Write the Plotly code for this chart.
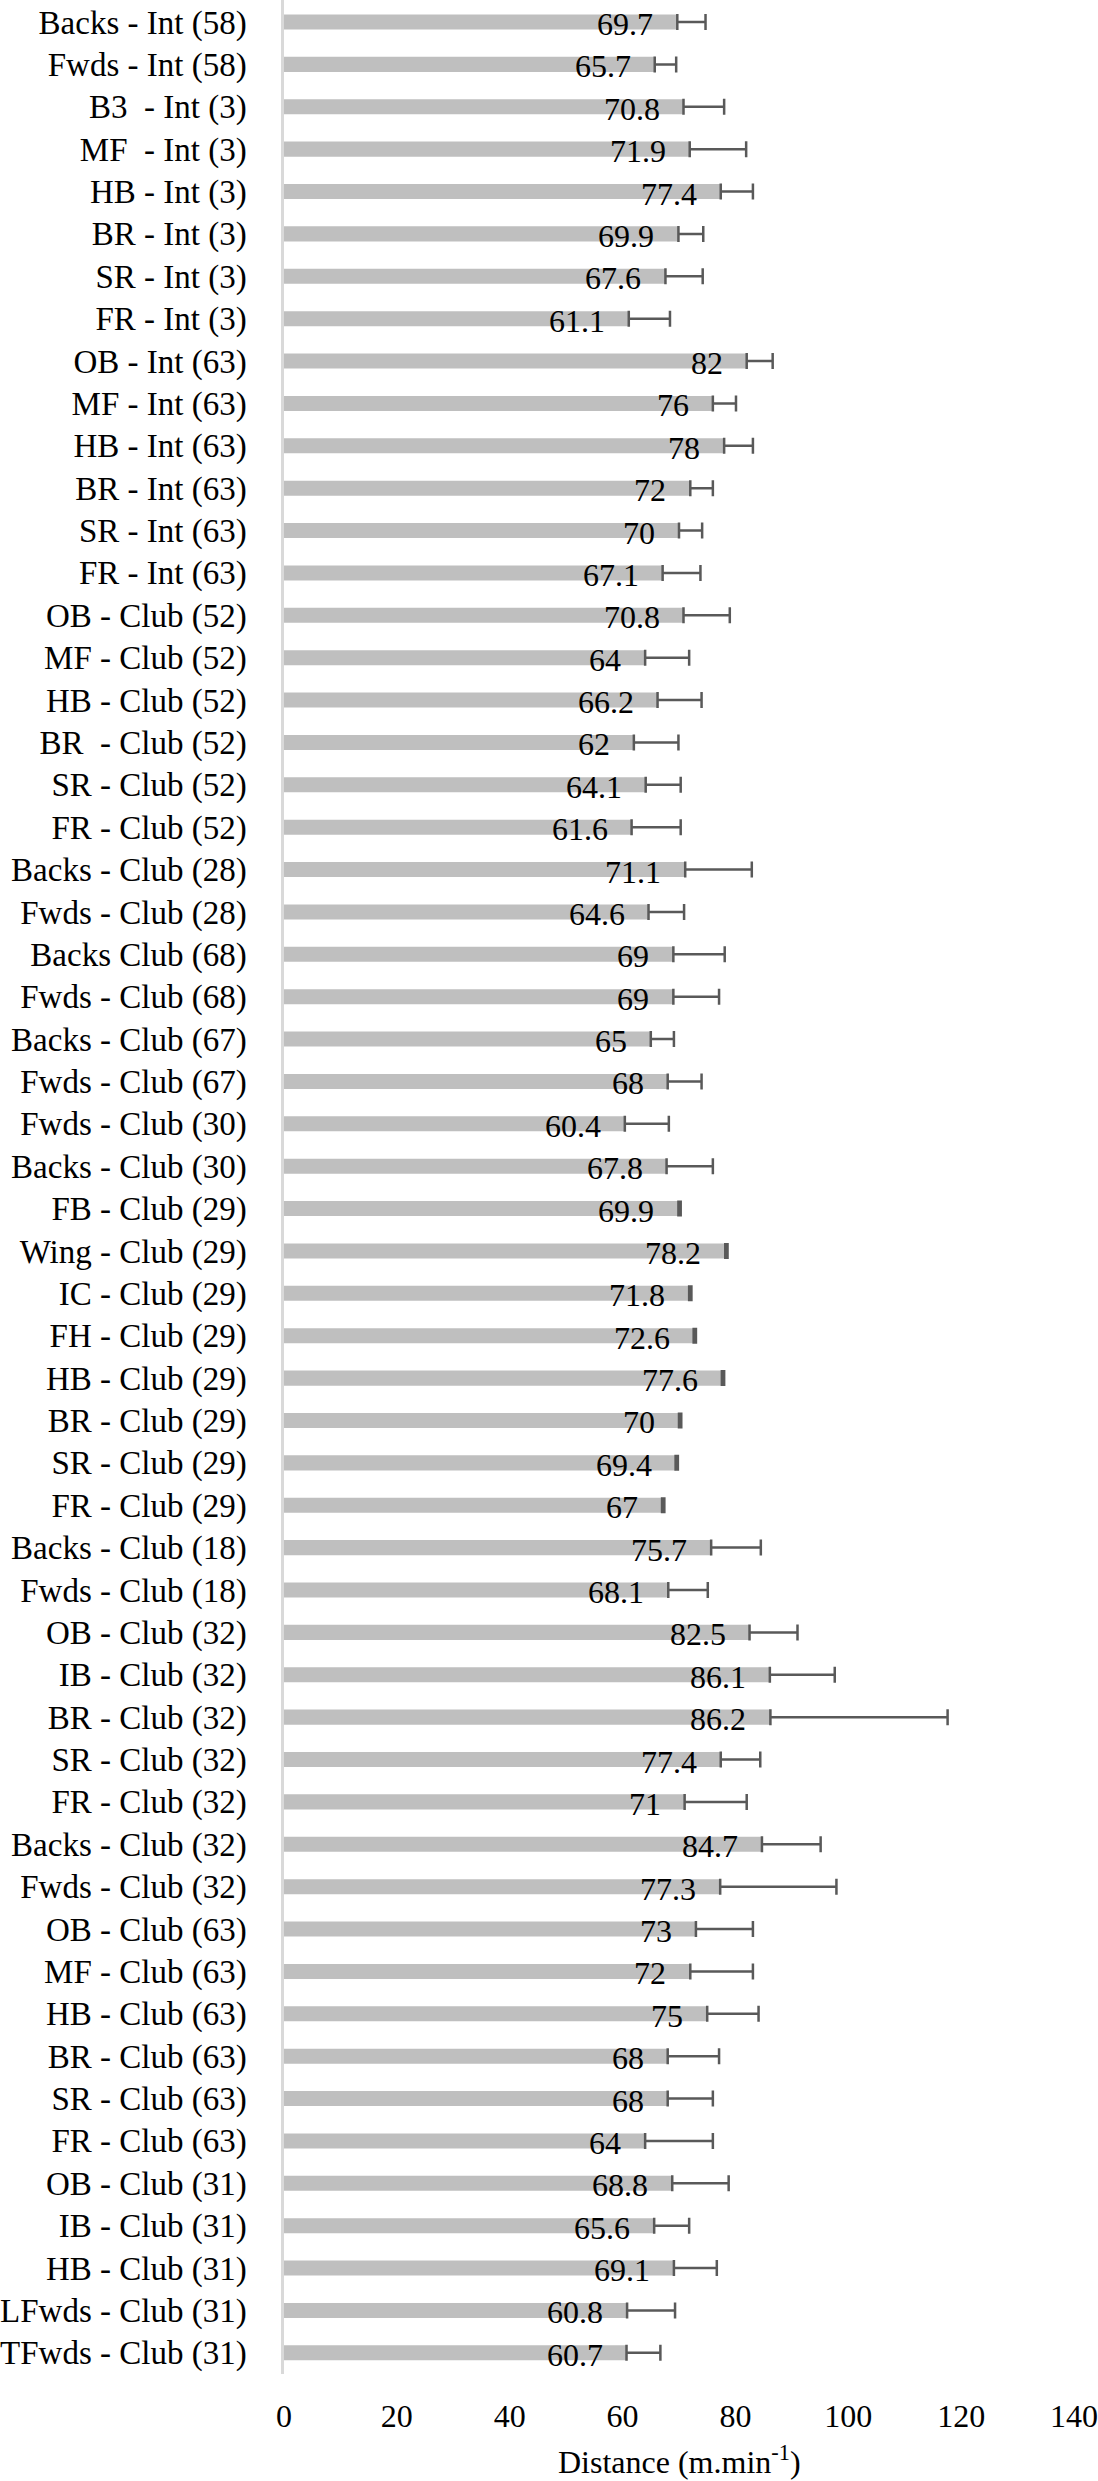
import plotly.graph_objects as go

categories = [
    "Backs - Int (58)", "Fwds - Int (58)", "B3  - Int (3)", "MF  - Int (3)", "HB - Int (3)",
    "BR - Int (3)", "SR - Int (3)", "FR - Int (3)", "OB - Int (63)", "MF - Int (63)",
    "HB - Int (63)", "BR - Int (63)", "SR - Int (63)", "FR - Int (63)", "OB - Club (52)",
    "MF - Club (52)", "HB - Club (52)", "BR  - Club (52)", "SR - Club (52)", "FR - Club (52)",
    "Backs - Club (28)", "Fwds - Club (28)", "Backs Club (68)", "Fwds - Club (68)",
    "Backs - Club (67)", "Fwds - Club (67)", "Fwds - Club (30)", "Backs - Club (30)",
    "FB - Club (29)", "Wing - Club (29)", "IC - Club (29)", "FH - Club (29)", "HB - Club (29)",
    "BR - Club (29)", "SR - Club (29)", "FR - Club (29)", "Backs - Club (18)", "Fwds - Club (18)",
    "OB - Club (32)", "IB - Club (32)", "BR - Club (32)", "SR - Club (32)", "FR - Club (32)",
    "Backs - Club (32)", "Fwds - Club (32)", "OB - Club (63)", "MF - Club (63)", "HB - Club (63)",
    "BR - Club (63)", "SR - Club (63)", "FR - Club (63)", "OB - Club (31)", "IB - Club (31)",
    "HB - Club (31)", "LFwds - Club (31)", "TFwds - Club (31)",
]

values = [
    69.7, 65.7, 70.8, 71.9, 77.4, 69.9, 67.6, 61.1, 82, 76,
    78, 72, 70, 67.1, 70.8, 64, 66.2, 62, 64.1, 61.6,
    71.1, 64.6, 69, 69, 65, 68, 60.4, 67.8,
    69.9, 78.2, 71.8, 72.6, 77.6, 70, 69.4, 67, 75.7, 68.1,
    82.5, 86.1, 86.2, 77.4, 71, 84.7, 77.3, 73, 72, 75,
    68, 68, 64, 68.8, 65.6, 69.1, 60.8, 60.7,
]

errors = [
    5.0, 3.8, 7.2, 10.0, 5.7, 4.4, 6.6, 7.3, 4.6, 4.1,
    5.1, 4.0, 4.1, 6.7, 8.2, 7.8, 7.8, 7.9, 6.2, 8.7,
    11.8, 6.3, 9.1, 8.1, 4.1, 6.0, 7.8, 8.2,
    0.4, 0.4, 0.4, 0.4, 0.4, 0.4, 0.4, 0.4, 8.8, 7.0,
    8.5, 11.5, 31.4, 7.0, 11.0, 10.4, 20.6, 10.1, 11.1, 9.1,
    9.1, 8.0, 12.0, 10.0, 6.2, 7.6, 8.5, 6.0,
]

value_labels = [f"{v:g}" for v in values]
x_ticks = [0, 20, 40, 60, 80, 100, 120, 140]

FONT = "Liberation Serif"

fig = go.Figure()
fig.add_trace(go.Bar(
    x=values,
    y=categories,
    orientation="h",
    width=0.355,
    marker=dict(color="#BFBFBF", line=dict(width=0)),
    error_x=dict(
        type="data",
        symmetric=False,
        array=errors,
        arrayminus=[0] * len(errors),
        color="#595959",
        thickness=2.5,
        width=8,
    ),
    hoverinfo="x+y",
))

annotations = []
for cat, v, lab in zip(categories, values, value_labels):
    annotations.append(dict(
        x=v, y=cat, xref="x", yref="y",
        text=lab, showarrow=False,
        xanchor="right", yanchor="middle",
        xshift=-22, yshift=-2,
        font=dict(family=FONT, size=32, color="#000000"),
    ))

annotations.append(dict(
    x=0.5, y=0, xref="paper", yref="paper",
    text="Distance (m.min<sup>-1</sup>)",
    showarrow=False, xanchor="center", yanchor="middle",
    yshift=-86,
    font=dict(family=FONT, size=32, color="#000000"),
))

fig.update_layout(
    width=1098,
    height=2481,
    margin=dict(l=277, r=24, t=0, b=107, pad=0),
    plot_bgcolor="white",
    paper_bgcolor="white",
    showlegend=False,
    annotations=annotations,
    font=dict(family=FONT, color="#000000"),
)

fig.update_xaxes(
    range=[0, 140],
    tickmode="array",
    tickvals=x_ticks,
    ticktext=[str(t) for t in x_ticks],
    showgrid=False,
    zeroline=False,
    showline=False,
    ticks="",
    ticklabelstandoff=20,
    tickfont=dict(family=FONT, size=32, color="#000000"),
)

fig.update_yaxes(
    type="category",
    categoryorder="array",
    categoryarray=categories,
    autorange="reversed",
    showgrid=False,
    zeroline=False,
    showline=True,
    linecolor="#D9D9D9",
    linewidth=2.5,
    ticks="",
    ticklabelstandoff=28,
    tickfont=dict(family=FONT, size=33, color="#000000"),
)

fig.write_html(
    "out.html",
    config={"displayModeBar": False},
    post_script="document.body.style.margin='0';document.body.style.overflow='hidden';",
)
